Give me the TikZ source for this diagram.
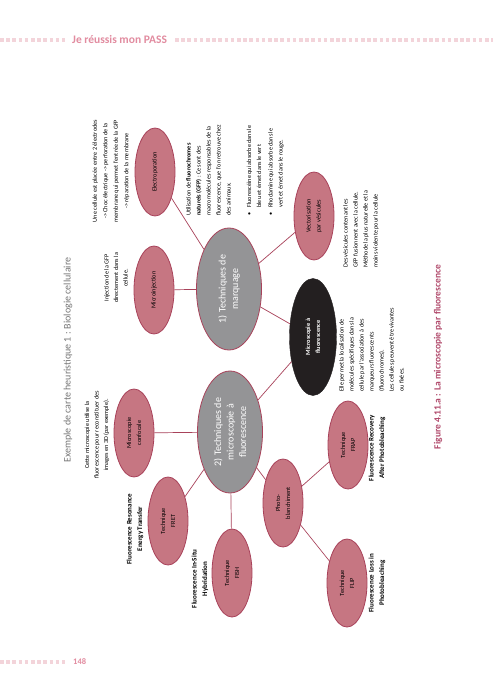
\documentclass[tikz,border=0pt]{standalone}
\usepackage{fontspec}
\setmainfont{Carlito}
\usetikzlibrary{shapes.geometric}
\definecolor{pinkfill}{RGB}{198,118,130}
\definecolor{pinkline}{RGB}{168,66,90}
\definecolor{grayfill}{RGB}{148,148,150}
\definecolor{nodeblack}{RGB}{35,31,32}
\definecolor{headpink}{RGB}{226,140,160}
\definecolor{dotpink}{RGB}{243,212,218}
\definecolor{captioncol}{RGB}{176,72,106}
\definecolor{titlegray}{RGB}{118,118,118}
\begin{document}
\begin{tikzpicture}[x=1pt,y=-1pt,
 leaf/.style={ellipse, rotate=90, fill=pinkfill, draw=pinkline, line width=0.8pt, minimum width=88pt, minimum height=40pt, inner sep=0pt, align=center, font=\fontsize{6.3}{10}\selectfont},
 hub/.style={ellipse, rotate=90, fill=grayfill, draw=pinkline, line width=0.8pt, minimum width=122pt, minimum height=65pt, inner sep=0pt, align=center, text=white, font=\fontsize{10}{12.5}\selectfont},
 core/.style={ellipse, rotate=90, fill=nodeblack, draw=nodeblack, minimum width=117pt, minimum height=47pt, inner sep=0pt, align=center, text=white, font=\bfseries\fontsize{6.3}{10}\selectfont},
 link/.style={draw=pinkline, line width=0.7pt},
 note/.style={rotate=90, inner sep=0pt, align=center, font=\fontsize{6.2}{9.5}\selectfont},
 notel/.style={note, align=left, anchor=north west, font=\fontsize{6.2}{10}\selectfont},
 lab/.style={rotate=90, inner sep=0pt, align=center, font=\bfseries\fontsize{7}{10.5}\selectfont},
 dots/.style={dotpink, line width=3.5pt, dash pattern=on 3.6pt off 2.6pt}
]
\useasboundingbox (0,0) rectangle (493,693);
\fill[white] (0,0) rectangle (493,693);

% header and footer
\draw[dots] (0,40) -- (65,40);
\draw[dots] (175,40) -- (493,40);
\node[font=\bfseries\fontsize{11.5}{12}\selectfont, text=headpink, anchor=west, inner sep=0pt] (header) at (72,40) {Je réussis mon PASS};
\draw[dots] (0,662) -- (65,662);
\node[font=\bfseries\fontsize{8.5}{9}\selectfont, text=headpink, anchor=west, inner sep=0pt] (page) at (73,662) {148};

% title and caption
\node[rotate=90, text=titlegray, font=\fontsize{10}{12}\selectfont, inner sep=0pt] (title) at (68,360) {Exemple de carte heuristique 1 : Biologie cellulaire};
\node[rotate=90, text=captioncol, font=\bfseries\fontsize{9.5}{12}\selectfont, inner sep=0pt] (caption) at (438,357) {Figure 4.11.a : La microscopie par fluorescence};

% nodes
\node[core] (fluo) at (313,337) {Microscopie à\\fluorescence};
\node[hub] (marq) at (229,289) {1) Techniques de\\marquage};
\node[hub] (tech) at (230,432) {2) Techniques de\\microscopie à\\fluorescence};
\node[leaf] (inj) at (154,290) {Microinjection};
\node[leaf] (elec) at (155,172) {Electroporation};
\node[leaf] (vect) at (314,216) {Vectorisation\\par vésicules};
\node[leaf] (conf) at (134,433) {Microscopie\\confocale};
\node[leaf] (fret) at (168,521) {Technique\\FRET};
\node[leaf] (fish) at (232,573) {Technique\\FISH};
\node[leaf] (photo) at (283,503) {Photo-\\blanchiment};
\node[leaf] (frap) at (348,445) {Technique\\FRAP};
\node[leaf] (flip) at (347,583) {Technique\\FLIP};

% connectors
\draw[link] (marq) -- (inj);
\draw[link] (marq) -- (elec);
\draw[link] (marq) -- (vect);
\draw[link] (marq) -- (fluo);
\draw[link] (fluo) -- (tech);
\draw[link] (tech) -- (conf);
\draw[link] (tech) -- (fret);
\draw[link] (tech) -- (fish);
\draw[link] (tech) -- (photo);
\draw[link] (photo) -- (frap);
\draw[link] (photo) -- (flip);

% texts
\node[note] (t1) at (97,435) {Cette microscopie utilise la\\fluorescence pour reconstituer des\\images en 3D (par exemple).};
\node[note] (t2) at (116,278) {Injection de la GFP\\directement dans la\\cellule.};
\node[note, font=\fontsize{6.2}{10.5}\selectfont] (t3) at (111,171) {Une cellule est placée entre 2 électrodes\\-> Choc électrique -> perforation de la\\membrane qui permet l'entrée de la GFP\\-> réparation de la membrane};
\node[notel] (t4) at (186,216) {Utilisation de \textbf{fluorochromes}\\\textbf{naturels (GFP)} : Ce sont des\\macromolécules responsables de la\\fluorescence, que l'on retrouve chez\\des animaux.};
\node[notel] (t5) at (244,216) {\begin{tabular}{@{}l@{\hspace{5pt}}l@{}}\textbullet & Fluorescéine qui absorbe dans le\\ & bleu et émet dans le vert\\[1.5pt] \textbullet & Rhodamine qui absorbe dans le\\ & vert et émet dans le rouge.\end{tabular}};
\node[notel] (t6) at (343,268) {Des vésicules contenant les\\GFP fusionnent avec la cellule.\\Méthode la plus naturelle et la\\moins violente pour la cellule};
\node[notel] (t7) at (339,392) {Elle permet la localisation de\\molécules spécifiques dans la\\cellule par l'association à des\\marqueurs fluorescents\\(fluorochromes).\\Les cellules peuvent être vivantes\\ou fixées.};

% bold labels
\node[lab] (l1) at (135,529) {Fluorescence Resonance\\Energy Transfer};
\node[lab] (l2) at (200,579) {Fluorescence In-Situ\\Hybridation};
\node[lab] (l3) at (377,448) {Fluorescence Recovery\\After Photobleaching};
\node[lab] (l4) at (377,583) {Fluorescence Loss in\\Photobleaching};
\end{tikzpicture}
\end{document}
